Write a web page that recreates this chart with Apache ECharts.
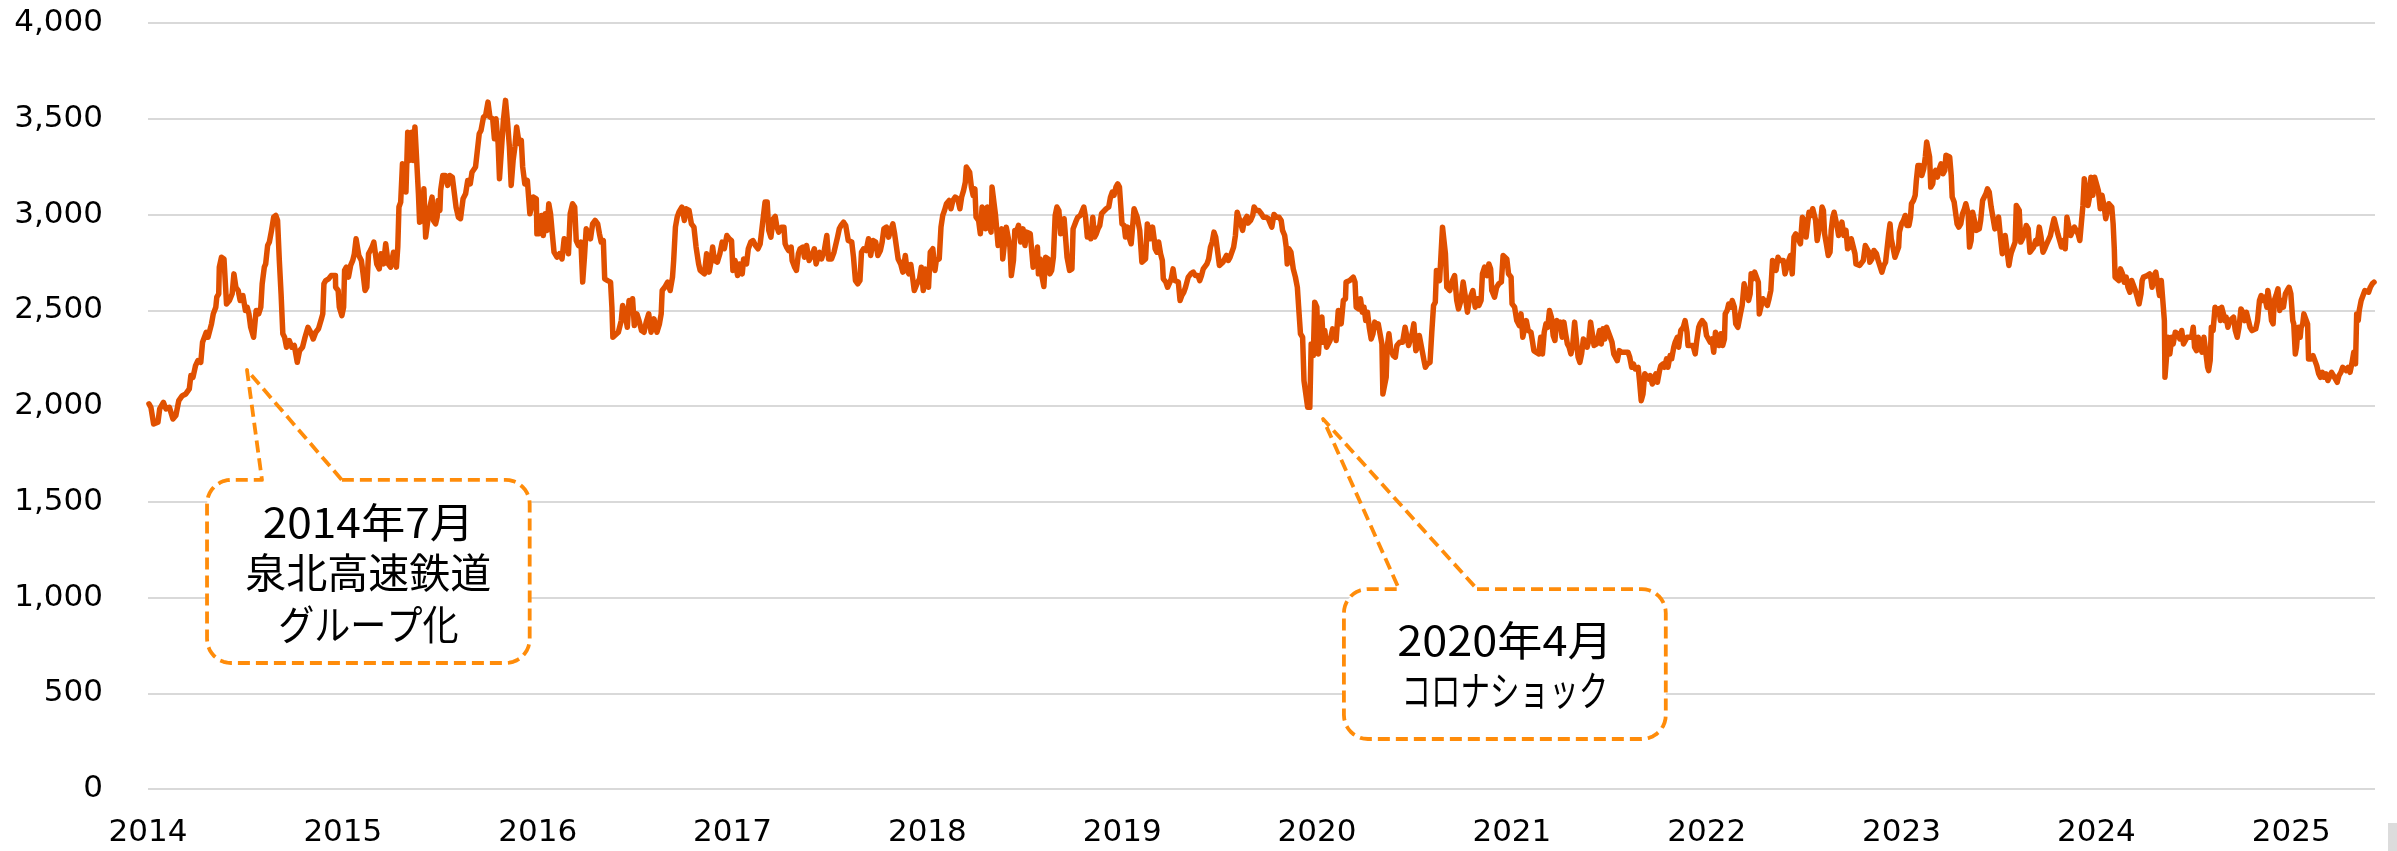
<!DOCTYPE html>
<html>
<head>
<meta charset="utf-8">
<script src="https://cdn.jsdelivr.net/npm/echarts@6/dist/echarts.min.js"></script>
<style>
html,body{margin:0;padding:0;background:#ffffff;}
#chart{width:2397px;height:851px;}
</style>
</head>
<body>
<div id="chart"></div>
<script>
// ---- tick labels ----
const yearTicks = [2014, 2015, 2016, 2017, 2018, 2019, 2020, 2021, 2022, 2023, 2024, 2025];
const priceTicks = [0, 500, 1000, 1500, 2000, 2500, 3000, 3500, 4000];

// ---- series values: [time in years, price] ----
const prices2014to2016 = [
[2014.005,2011],[2014.015,1993],[2014.029,1906],[2014.051,1915],[2014.060,1985],[2014.079,2019],[2014.092,1985],[2014.110,1993],[2014.128,1932],[2014.143,1950],[2014.158,2028],[2014.176,2054],[2014.194,2063],[2014.212,2089],[2014.220,2159],[2014.231,2150],[2014.244,2211],[2014.256,2237],[2014.271,2228],[2014.280,2333],[2014.299,2385],[2014.308,2359],[2014.326,2429],[2014.335,2481],[2014.348,2516],[2014.353,2568],[2014.363,2586],[2014.366,2725],[2014.377,2777],[2014.390,2768],[2014.403,2533],[2014.418,2551],[2014.432,2586],[2014.441,2690],[2014.451,2620],[2014.463,2603],[2014.473,2551],[2014.487,2577],[2014.500,2499],[2014.509,2516],[2014.518,2481],[2014.527,2411],[2014.542,2359],[2014.555,2499],[2014.568,2481],[2014.579,2516],[2014.586,2638],[2014.597,2725],[2014.604,2742],[2014.614,2838],[2014.623,2856],[2014.634,2917],[2014.645,2986],[2014.656,2995],[2014.665,2969],[2014.674,2760],[2014.683,2586],[2014.692,2377],[2014.701,2359],[2014.711,2307],[2014.725,2342],[2014.738,2307],[2014.751,2316],[2014.766,2228],[2014.778,2289],[2014.793,2307],[2014.806,2359],[2014.821,2411],[2014.835,2385],[2014.848,2350],[2014.861,2385],[2014.875,2403],[2014.890,2455],[2014.897,2481],[2014.903,2638],[2014.912,2655],[2014.927,2664],[2014.940,2681],[2014.949,2690],[2014.962,2681],[2014.963,2620],[2014.976,2603],[2014.982,2516],[2014.995,2472],
[2015.004,2516],[2015.009,2708],[2015.018,2725],[2015.029,2673],[2015.040,2734],[2015.051,2760],[2015.059,2795],[2015.068,2873],[2015.077,2864],[2015.082,2786],[2015.095,2760],[2015.104,2690],[2015.114,2603],[2015.123,2620],[2015.132,2795],[2015.141,2812],[2015.150,2830],[2015.159,2856],[2015.168,2864],[2015.174,2742],[2015.187,2716],[2015.196,2795],[2015.209,2742],[2015.220,2847],[2015.227,2856],[2015.233,2742],[2015.245,2725],[2015.260,2803],[2015.275,2725],[2015.282,2830],[2015.288,3039],[2015.297,3065],[2015.306,3265],[2015.315,3265],[2015.324,3117],[2015.333,3430],[2015.342,3282],[2015.352,3430],[2015.361,3282],[2015.370,3457],[2015.379,3457],[2015.388,3108],[2015.394,2960],[2015.407,2969],[2015.416,3134],[2015.425,2882],[2015.434,2882],[2015.443,3021],[2015.458,3091],[2015.465,2969],[2015.476,2951],[2015.484,2986],[2015.489,3073],[2015.498,3021],[2015.502,3126],[2015.513,3204],[2015.526,3204],[2015.538,3152],[2015.549,3204],[2015.562,3195],[2015.571,3204],[2015.581,3039],[2015.593,2986],[2015.604,2978],[2015.617,3082],[2015.630,3108],[2015.641,3178],[2015.654,3160],[2015.663,3221],[2015.681,3248],[2015.690,3256],[2015.700,3422],[2015.709,3439],[2015.722,3509],[2015.733,3518],[2015.745,3587],[2015.755,3509],[2015.769,3500],[2015.778,3396],[2015.786,3500],[2015.797,3370],[2015.804,3187],[2015.813,3187],[2015.824,3491],[2015.835,3596],[2015.846,3474],[2015.855,3352],[2015.864,3152],[2015.874,3282],[2015.883,3352],[2015.892,3457],[2015.905,3370],[2015.916,3387],[2015.923,3248],[2015.934,3160],[2015.947,3178],[2015.960,3004],[2015.969,3039],[2015.978,3091],[2015.993,3082],[2015.996,2899],
[2016.007,2899],[2016.020,2995],[2016.029,2890],[2016.038,3004],[2016.048,2917],[2016.057,3056],[2016.066,3004],[2016.075,2899],[2016.084,2803],[2016.099,2777],[2016.112,2795],[2016.125,2768],[2016.136,2873],[2016.148,2856],[2016.158,2795],[2016.167,3004],[2016.179,3056],[2016.190,3039],[2016.198,2864],[2016.209,2838],[2016.222,2856],[2016.231,2647],[2016.240,2777],[2016.249,2925],[2016.258,2934],[2016.271,2873],[2016.282,2951],[2016.295,2969],[2016.308,2951],[2016.317,2899],[2016.326,2856],[2016.337,2864],[2016.344,2664],[2016.359,2655],[2016.374,2647],[2016.381,2516],[2016.386,2359],[2016.396,2359],[2016.414,2385],[2016.429,2446],[2016.436,2525],[2016.447,2490],[2016.460,2411],[2016.469,2551],[2016.478,2516],[2016.487,2560],[2016.496,2420],[2016.509,2481],[2016.520,2446],[2016.533,2394],[2016.546,2385],[2016.557,2438],[2016.570,2481],[2016.582,2385],[2016.597,2455],[2016.612,2385],[2016.625,2429],[2016.634,2481],[2016.639,2603],[2016.652,2620],[2016.667,2647],[2016.680,2603],[2016.692,2673],[2016.698,2760],[2016.707,2934],[2016.716,2986],[2016.725,3012],[2016.740,3039],[2016.753,2969],[2016.762,3030],[2016.777,3021],[2016.789,2951],[2016.802,2934],[2016.813,2830],[2016.826,2742]
];

const prices2017to2019 = [
[2016.834,2708],[2016.843,2699],[2016.856,2690],[2016.867,2795],[2016.880,2699],[2016.889,2751],[2016.898,2830],[2016.907,2760],[2016.922,2751],[2016.935,2795],[2016.947,2856],[2016.958,2821],[2016.971,2890],[2016.984,2873],[2016.995,2864],[2017.002,2708],[2017.013,2760],[2017.026,2681],[2017.035,2742],[2017.050,2690],[2017.057,2768],[2017.072,2742],[2017.081,2821],[2017.094,2856],[2017.105,2864],[2017.118,2838],[2017.131,2821],[2017.142,2847],[2017.151,2925],[2017.160,2934],[2017.167,3065],[2017.178,3065],[2017.186,2917],[2017.197,2882],[2017.209,2978],[2017.219,2990],[2017.228,2934],[2017.237,2908],[2017.252,2934],[2017.264,2934],[2017.270,2847],[2017.277,2830],[2017.288,2812],[2017.301,2830],[2017.306,2760],[2017.319,2725],[2017.328,2708],[2017.338,2795],[2017.347,2821],[2017.361,2830],[2017.369,2777],[2017.380,2838],[2017.393,2760],[2017.402,2777],[2017.411,2795],[2017.420,2821],[2017.429,2742],[2017.438,2777],[2017.447,2803],[2017.457,2768],[2017.471,2812],[2017.484,2890],[2017.493,2768],[2017.508,2768],[2017.521,2803],[2017.530,2803],[2017.539,2882],[2017.548,2925],[2017.557,2943],[2017.570,2960],[2017.581,2943],[2017.594,2864],[2017.603,2856],[2017.612,2856],[2017.621,2777],[2017.631,2655],[2017.643,2638],[2017.654,2655],[2017.662,2803],[2017.673,2821],[2017.686,2812],[2017.698,2873],[2017.709,2786],[2017.717,2786],[2017.722,2864],[2017.735,2856],[2017.746,2786],[2017.759,2812],[2017.768,2856],[2017.777,2925],[2017.790,2934],[2017.801,2882],[2017.814,2925],[2017.823,2951],[2017.832,2899],[2017.841,2899],[2017.850,2768],[2017.863,2742],[2017.874,2699],[2017.887,2786],[2017.896,2708],[2017.905,2690],[2017.915,2739],[2017.924,2673],[2017.933,2603],[2017.947,2638],[2017.960,2664],[2017.969,2725],[2017.979,2603],[2017.988,2716],[2017.997,2690],
[2018.006,2620],[2018.015,2803],[2018.028,2821],[2018.039,2708],[2018.046,2760],[2018.061,2768],[2018.070,2934],[2018.079,2995],[2018.088,3021],[2018.098,3056],[2018.112,3073],[2018.121,3030],[2018.131,3073],[2018.143,3091],[2018.156,3082],[2018.167,3030],[2018.176,3091],[2018.186,3126],[2018.195,3169],[2018.200,3248],[2018.208,3251],[2018.217,3221],[2018.226,3143],[2018.235,3100],[2018.244,3134],[2018.250,2986],[2018.263,2969],[2018.272,2899],[2018.281,3039],[2018.290,3021],[2018.299,2925],[2018.308,3039],[2018.317,2951],[2018.327,2908],[2018.332,3143],[2018.341,3134],[2018.350,2995],[2018.358,2899],[2018.363,2838],[2018.372,2830],[2018.382,2925],[2018.387,2768],[2018.394,2760],[2018.405,2934],[2018.415,2925],[2018.424,2830],[2018.431,2681],[2018.442,2760],[2018.449,2917],[2018.460,2917],[2018.468,2943],[2018.479,2856],[2018.491,2925],[2018.501,2838],[2018.510,2908],[2018.519,2899],[2018.528,2899],[2018.537,2795],[2018.543,2725],[2018.552,2716],[2018.559,2760],[2018.565,2830],[2018.570,2690],[2018.579,2768],[2018.589,2673],[2018.598,2624],[2018.607,2777],[2018.620,2768],[2018.629,2690],[2018.638,2708],[2018.647,2777],[2018.656,2995],[2018.665,3039],[2018.675,3021],[2018.684,2899],[2018.693,2899],[2018.702,2978],[2018.711,2978],[2018.717,2777],[2018.730,2708],[2018.742,2716],[2018.748,2925],[2018.761,2960],[2018.772,2986],[2018.785,2995],[2018.794,3004],[2018.803,3039],[2018.812,2986],[2018.821,2882],[2018.830,2917],[2018.839,2873],[2018.849,2986],[2018.858,2882],[2018.867,2899],[2018.876,2925],[2018.885,2943],[2018.894,3004],[2018.904,3004],[2018.918,3030],[2018.931,3039],[2018.940,3091],[2018.949,3117],[2018.958,3100],[2018.968,3143],[2018.977,3160],[2018.986,3143],[2018.995,3134],[2018.999,2951],
[2019.010,2943],[2019.017,2882],[2019.028,2934],[2019.035,2882],[2019.046,2847],[2019.054,2943],[2019.061,3030],[2019.068,3021],[2019.077,2986],[2019.090,2917],[2019.101,2751],[2019.109,2742],[2019.120,2768],[2019.129,2951],[2019.138,2960],[2019.145,2873],[2019.156,2934],[2019.164,2873],[2019.169,2821],[2019.178,2803],[2019.187,2856],[2019.197,2795],[2019.206,2760],[2019.211,2664],[2019.224,2647],[2019.233,2620],[2019.242,2612],[2019.252,2664],[2019.261,2716],[2019.270,2655],[2019.279,2655],[2019.288,2647],[2019.297,2551],[2019.306,2577],[2019.316,2594],[2019.325,2620],[2019.334,2629],[2019.339,2673],[2019.352,2690],[2019.365,2699],[2019.376,2681],[2019.389,2681],[2019.398,2655],[2019.407,2681],[2019.416,2716],[2019.426,2708],[2019.435,2742],[2019.444,2768],[2019.453,2830],[2019.462,2856],[2019.471,2908],[2019.480,2882],[2019.490,2890],[2019.499,2734],[2019.508,2725],[2019.517,2751],[2019.526,2760],[2019.535,2786],[2019.545,2760],[2019.554,2777],[2019.563,2777],[2019.572,2830],[2019.581,2890],[2019.590,3012],[2019.600,3012],[2019.609,2951],[2019.618,2917],[2019.627,2969],[2019.640,2990]
];

const prices2020to2022 = [
[2019.646,2955],[2019.659,2969],[2019.670,2995],[2019.677,3039],[2019.688,3021],[2019.701,3021],[2019.714,3004],[2019.725,2986],[2019.737,2986],[2019.750,2978],[2019.761,2951],[2019.768,2934],[2019.779,3000],[2019.792,2986],[2019.805,2986],[2019.816,2969],[2019.823,2917],[2019.834,2890],[2019.842,2830],[2019.847,2742],[2019.856,2821],[2019.866,2803],[2019.875,2795],[2019.878,2716],[2019.889,2673],[2019.899,2620],[2019.908,2481],[2019.915,2377],[2019.926,2359],[2019.933,2133],[2019.942,2124],[2019.952,1993],[2019.963,1993],[2019.970,2324],[2019.981,2263],[2019.988,2542],[2019.999,2516],
[2020.007,2272],[2020.018,2446],[2020.025,2464],[2020.032,2333],[2020.040,2394],[2020.049,2307],[2020.058,2316],[2020.067,2342],[2020.080,2403],[2020.091,2377],[2020.098,2342],[2020.109,2499],[2020.116,2507],[2020.124,2429],[2020.135,2551],[2020.146,2560],[2020.149,2647],[2020.159,2647],[2020.168,2655],[2020.177,2664],[2020.186,2673],[2020.195,2647],[2020.201,2516],[2020.214,2507],[2020.223,2560],[2020.232,2490],[2020.241,2516],[2020.250,2446],[2020.259,2490],[2020.268,2411],[2020.278,2350],[2020.287,2377],[2020.296,2438],[2020.305,2411],[2020.314,2429],[2020.323,2429],[2020.333,2324],[2020.338,2063],[2020.347,2063],[2020.355,2150],[2020.360,2307],[2020.369,2377],[2020.378,2298],[2020.391,2263],[2020.402,2255],[2020.410,2316],[2020.424,2333],[2020.439,2333],[2020.452,2411],[2020.461,2420],[2020.470,2316],[2020.479,2324],[2020.488,2377],[2020.497,2429],[2020.507,2289],[2020.516,2307],[2020.525,2368],[2020.538,2298],[2020.549,2237],[2020.556,2202],[2020.567,2220],[2020.580,2228],[2020.589,2385],[2020.598,2525],[2020.607,2542],[2020.613,2708],[2020.622,2716],[2020.629,2655],[2020.637,2803],[2020.644,2934],[2020.653,2934],[2020.659,2795],[2020.666,2620],[2020.681,2603],[2020.695,2655],[2020.706,2681],[2020.717,2551],[2020.726,2507],[2020.739,2551],[2020.750,2647],[2020.759,2586],[2020.772,2490],[2020.781,2551],[2020.790,2551],[2020.800,2603],[2020.812,2516],[2020.823,2560],[2020.831,2525],[2020.842,2551],[2020.849,2690],[2020.860,2725],[2020.873,2681],[2020.882,2742],[2020.891,2716],[2020.897,2603],[2020.904,2594],[2020.911,2568],[2020.922,2620],[2020.933,2638],[2020.946,2647],[2020.955,2786],[2020.964,2795],[2020.974,2768],[2020.983,2690],[2020.996,2673],
[2021.001,2533],[2021.014,2516],[2021.025,2446],[2021.038,2420],[2021.047,2481],[2021.056,2359],[2021.065,2368],[2021.074,2446],[2021.084,2394],[2021.098,2385],[2021.105,2342],[2021.113,2289],[2021.124,2281],[2021.138,2272],[2021.148,2359],[2021.157,2272],[2021.166,2385],[2021.175,2429],[2021.184,2411],[2021.193,2499],[2021.203,2464],[2021.212,2368],[2021.221,2342],[2021.230,2446],[2021.239,2411],[2021.248,2438],[2021.258,2359],[2021.267,2438],[2021.276,2377],[2021.285,2324],[2021.294,2307],[2021.303,2272],[2021.312,2316],[2021.322,2438],[2021.331,2429],[2021.340,2255],[2021.349,2228],[2021.358,2272],[2021.367,2350],[2021.377,2333],[2021.386,2307],[2021.395,2342],[2021.404,2438],[2021.413,2446],[2021.422,2316],[2021.435,2324],[2021.450,2394],[2021.459,2324],[2021.468,2403],[2021.477,2350],[2021.486,2411],[2021.496,2420],[2021.505,2359],[2021.514,2333],[2021.523,2272],[2021.532,2272],[2021.541,2237],[2021.551,2289],[2021.563,2281],[2021.578,2281],[2021.587,2289],[2021.596,2281],[2021.605,2255],[2021.615,2202],[2021.624,2220],[2021.633,2194],[2021.648,2202],[2021.655,2133],[2021.664,2028],[2021.673,2063],[2021.682,2168],[2021.692,2159],[2021.703,2141],[2021.710,2159],[2021.721,2115],[2021.728,2133],[2021.739,2168],[2021.747,2124],[2021.758,2185],[2021.765,2211],[2021.776,2220],[2021.783,2202],[2021.794,2246],[2021.801,2202],[2021.812,2263],[2021.820,2246],[2021.831,2307],[2021.838,2333],[2021.849,2359],[2021.856,2307],[2021.867,2394],[2021.880,2411],[2021.889,2446],[2021.899,2385],[2021.904,2316],[2021.917,2316],[2021.930,2316],[2021.941,2272],[2021.948,2333],[2021.959,2411],[2021.966,2429],[2021.977,2446],[2021.990,2429],[2021.999,2368],
[2022.008,2377],[2022.018,2333],[2022.027,2350],[2022.036,2281],[2022.045,2385],[2022.054,2377],[2022.063,2316],[2022.073,2377],[2022.082,2316],[2022.091,2350],[2022.095,2481],[2022.105,2499],[2022.113,2533],[2022.124,2516],[2022.131,2551],[2022.142,2516],[2022.149,2429],[2022.160,2411],[2022.168,2403],[2022.173,2481],[2022.182,2525],[2022.192,2638],[2022.197,2638],[2022.204,2586],[2022.215,2551],[2022.223,2586],[2022.228,2690],[2022.237,2664],[2022.246,2699],[2022.256,2708],[2022.265,2647],[2022.270,2481],[2022.278,2516],[2022.289,2560],[2022.301,2542],[2022.311,2525],[2022.320,2560],[2022.329,2603],[2022.338,2760],[2022.347,2768],[2022.356,2708],[2022.366,2777],[2022.375,2760],[2022.384,2751],[2022.393,2760],[2022.402,2690],[2022.411,2690],[2022.421,2760],[2022.430,2786],[2022.439,2690],[2022.448,2882],[2022.457,2899],[2022.466,2908]
];

const prices2023to2025 = [
[2022.481,2847],[2022.491,2986],[2022.500,2969],[2022.510,2882],[2022.519,2890],[2022.525,3012],[2022.535,2995],[2022.544,3030],[2022.552,3039],[2022.559,2969],[2022.567,2864],[2022.576,2917],[2022.586,2969],[2022.592,3039],[2022.599,3021],[2022.605,2899],[2022.614,2847],[2022.624,2786],[2022.633,2803],[2022.639,2917],[2022.647,2986],[2022.654,3012],[2022.662,3021],[2022.670,2934],[2022.677,2890],[2022.685,2917],[2022.694,2960],[2022.704,2890],[2022.715,2917],[2022.723,2821],[2022.734,2830],[2022.742,2873],[2022.749,2882],[2022.761,2795],[2022.766,2742],[2022.776,2742],[2022.785,2734],[2022.795,2725],[2022.804,2760],[2022.814,2838],[2022.823,2847],[2022.833,2803],[2022.837,2751],[2022.848,2768],[2022.858,2812],[2022.871,2795],[2022.880,2760],[2022.890,2751],[2022.899,2699],[2022.909,2734],[2022.918,2751],[2022.928,2760],[2022.934,2899],[2022.941,2951],[2022.947,2873],[2022.956,2830],[2022.966,2777],[2022.975,2768],[2022.985,2830],[2022.989,2908],
[2023.000,2951],[2023.010,2969],[2023.019,2995],[2023.027,2943],[2023.038,2943],[2023.046,2986],[2023.051,3056],[2023.061,3073],[2023.070,3100],[2023.076,3178],[2023.084,3256],[2023.095,3256],[2023.104,3204],[2023.114,3239],[2023.122,3300],[2023.129,3378],[2023.137,3370],[2023.144,3300],[2023.150,3143],[2023.160,3160],[2023.165,3213],[2023.175,3230],[2023.184,3195],[2023.194,3239],[2023.203,3265],[2023.213,3213],[2023.222,3230],[2023.228,3309],[2023.236,3300],[2023.247,3300],[2023.255,3204],[2023.260,3091],[2023.270,3065],[2023.279,3056],[2023.285,2951],[2023.294,2934],[2023.304,2951],[2023.313,3004],[2023.323,3030],[2023.330,3056],[2023.336,3065],[2023.342,3004],[2023.346,2899],[2023.349,2830],[2023.357,2864],[2023.365,3012],[2023.374,2969],[2023.384,2917],[2023.399,2925],[2023.406,2969],[2023.416,3073],[2023.425,3082],[2023.433,3108],[2023.441,3134],[2023.450,3117],[2023.460,3039],[2023.469,2986],[2023.479,2925],[2023.488,2917],[2023.498,2986],[2023.507,2890],[2023.517,2795],[2023.526,2803],[2023.532,2890],[2023.541,2882],[2023.551,2734],[2023.558,2777],[2023.564,2803],[2023.574,2812],[2023.583,2856],[2023.589,3047],[2023.596,3056],[2023.604,3021],[2023.612,2856],[2023.621,2873],[2023.631,2899],[2023.640,2943],[2023.650,2925],[2023.659,2803],[2023.669,2795],[2023.678,2830],[2023.688,2864],[2023.697,2847],[2023.707,2934],[2023.716,2882],[2023.726,2803],[2023.735,2821],[2023.745,2847],[2023.754,2856],[2023.764,2890],[2023.773,2934],[2023.783,2978],[2023.792,2969],[2023.802,2899],[2023.811,2890],[2023.821,2830],[2023.830,2864],[2023.840,2821],[2023.849,2986],[2023.859,2978],[2023.868,2890],[2023.878,2899],[2023.887,2934],[2023.897,2934],[2023.906,2899],[2023.915,2864],[2023.925,2856],[2023.931,3047],[2023.938,3187],[2023.948,3187],[2023.957,3047],[2023.965,3091],[2023.972,3195],[2023.982,3100],[2023.991,3195],
[2024.001,3195],[2024.010,3126],[2024.020,3030],[2024.029,3100],[2024.039,3047],[2024.048,2978],[2024.058,2986],[2024.064,3056],[2024.071,3065],[2024.079,3039],[2024.086,2951],[2024.092,2821],[2024.096,2673],[2024.105,2664],[2024.115,2655],[2024.124,2716],[2024.134,2690],[2024.143,2647],[2024.153,2673],[2024.162,2620],[2024.172,2594],[2024.181,2655],[2024.191,2664],[2024.200,2603],[2024.210,2568],[2024.219,2533],[2024.229,2586],[2024.235,2655],[2024.242,2673],[2024.252,2673],[2024.261,2681],[2024.273,2690],[2024.280,2664],[2024.286,2620],[2024.295,2681],[2024.305,2699],[2024.314,2690],[2024.324,2577],[2024.333,2655],[2024.343,2664],[2024.349,2446],[2024.352,2150],[2024.362,2159],[2024.368,2359],[2024.377,2272],[2024.387,2359],[2024.394,2324],[2024.405,2385],[2024.419,2377],[2024.428,2350],[2024.438,2394],[2024.447,2324],[2024.457,2316],[2024.466,2359],[2024.476,2368],[2024.489,2359],[2024.497,2411],[2024.504,2307],[2024.514,2289],[2024.523,2359],[2024.533,2307],[2024.542,2281],[2024.552,2359],[2024.561,2350],[2024.571,2202],[2024.576,2185],[2024.584,2237],[2024.590,2411],[2024.599,2394],[2024.609,2516],[2024.618,2481],[2024.628,2507],[2024.637,2446],[2024.643,2516],[2024.652,2481],[2024.660,2446],[2024.666,2464],[2024.675,2411],[2024.685,2446],[2024.694,2455],[2024.704,2464],[2024.713,2394],[2024.723,2359],[2024.732,2411],[2024.742,2507],[2024.751,2490],[2024.761,2446],[2024.770,2490],[2024.780,2481],[2024.789,2411],[2024.799,2394],[2024.808,2394],[2024.818,2403],[2024.827,2446],[2024.837,2551],[2024.846,2577],[2024.856,2551],[2024.865,2568],[2024.875,2516],[2024.880,2603],[2024.888,2551],[2024.899,2446],[2024.907,2429],[2024.913,2551],[2024.922,2577],[2024.932,2612],[2024.941,2499],[2024.951,2551],[2024.960,2516],[2024.970,2586],[2024.979,2603],[2024.989,2620],[2024.998,2586],
[2025.008,2446],[2025.013,2429],[2025.021,2272],[2025.027,2307],[2025.036,2411],[2025.046,2359],[2025.051,2411],[2025.059,2429],[2025.065,2481],[2025.074,2481],[2025.084,2429],[2025.089,2246],[2025.103,2246],[2025.112,2263],[2025.122,2255],[2025.131,2211],[2025.141,2168],[2025.150,2150],[2025.160,2176],[2025.169,2150],[2025.179,2168],[2025.188,2133],[2025.198,2124],[2025.207,2176],[2025.217,2159],[2025.226,2150],[2025.236,2124],[2025.245,2159],[2025.255,2176],[2025.264,2202],[2025.274,2211],[2025.283,2185],[2025.292,2202],[2025.302,2176],[2025.311,2220],[2025.321,2281],[2025.330,2220],[2025.336,2481],[2025.344,2446],[2025.349,2499],[2025.359,2551],[2025.368,2551],[2025.378,2603],[2025.387,2603],[2025.397,2594],[2025.406,2620],[2025.416,2638],[2025.425,2647]
];

// ---- annotations (anchored in data space) ----
const callouts = [
  { lines: ['2014年7月', '泉北高速鉄道', 'グループ化'],
    box: [2014.303, 2015.959, 1614, 658],   // t-left, t-right, v-top, v-bottom
    tip: [2014.508, 2188],
    base: [2014.585, 2014.995] },
  { lines: ['2020年4月', 'コロナショック'],
    box: [2020.138, 2021.790, 1044, 261],
    tip: [2020.031, 1932],
    base: [2020.421, 2020.821] }
];

// ---- styles / layout ----
const LINE_COLOR = '#E05000';
const CALLOUT_COLOR = '#FF8C0A';
const TEXT_FONT = '"Noto Sans CJK JP", sans-serif';
const lineLayout = [
  { offsets: [43, 93, 145], scaleX: [1.08, 1.0, 0.88] },
  { offsets: [51, 101],     scaleX: [1.10, 0.72] }
];

const priceData = prices2014to2016.concat(prices2017to2019, prices2020to2022, prices2023to2025);

const chart = echarts.init(document.getElementById('chart'), null, { renderer: 'canvas' });

chart.setOption({
  animation: false,
  backgroundColor: '#ffffff',
  grid: { left: 148, right: 22, top: 23, bottom: 62, containLabel: false },
  xAxis: {
    type: 'value',
    min: yearTicks[0],
    max: 2025.43,
    interval: 1,
    axisLine: { show: false },
    axisTick: { show: false },
    splitLine: { show: false },
    axisLabel: {
      showMaxLabel: false,
      margin: 28,
      fontFamily: 'DejaVu Sans',
      fontSize: 31,
      color: '#000000',
      formatter: function (v) { return yearTicks.indexOf(Math.round(v)) >= 0 ? String(Math.round(v)) : ''; }
    }
  },
  yAxis: {
    type: 'value',
    min: priceTicks[0],
    max: priceTicks[priceTicks.length - 1],
    interval: 500,
    axisLine: { show: false },
    axisTick: { show: false },
    splitLine: { show: true, lineStyle: { color: '#D9D9D9', width: 2 } },
    axisLabel: {
      margin: 45,
      fontFamily: 'DejaVu Sans',
      fontSize: 31,
      color: '#000000',
      formatter: function (v) { return Number(v).toLocaleString('en-US'); }
    }
  },
  series: [{
    type: 'line',
    data: priceData,
    showSymbol: false,
    symbol: 'none',
    sampling: null,
    lineStyle: { color: LINE_COLOR, width: 5.5, join: 'round', cap: 'round' },
    z: 3
  }]
});

function arcPts(cx, cy, r, a0, a1) {
  const pts = [];
  const n = 10;
  for (let i = 0; i <= n; i++) {
    const a = a0 + (a1 - a0) * i / n;
    pts.push([cx + r * Math.cos(a), cy + r * Math.sin(a)]);
  }
  return pts;
}

function buildCallout(c, lay) {
  const p = (t, v) => chart.convertToPixel({ gridIndex: 0 }, [t, v]);
  const tl = p(c.box[0], c.box[2]);
  const brc = p(c.box[1], c.box[3]);
  const L = tl[0], T = tl[1], R = brc[0], B = brc[1];
  const tip = p(c.tip[0], c.tip[1]);
  const bl = p(c.base[0], 0)[0], br = p(c.base[1], 0)[0];
  const r = 24;
  const PI = Math.PI;
  let pts = [[br, T], [R - r, T]];
  pts = pts.concat(arcPts(R - r, T + r, r, -PI / 2, 0));
  pts.push([R, B - r]);
  pts = pts.concat(arcPts(R - r, B - r, r, 0, PI / 2));
  pts.push([L + r, B]);
  pts = pts.concat(arcPts(L + r, B - r, r, PI / 2, PI));
  pts.push([L, T + r]);
  pts = pts.concat(arcPts(L + r, T + r, r, PI, 1.5 * PI));
  pts.push([bl, T], [tip[0], tip[1]]);

  const els = [];
  els.push({
    type: 'rect', z: 10,
    shape: { x: L, y: T, width: R - L, height: B - T, r: r },
    style: { fill: '#ffffff', stroke: null }
  });
  els.push({
    type: 'polygon', z: 11,
    shape: { points: pts },
    style: { fill: null, stroke: CALLOUT_COLOR, lineWidth: 3.8, lineDash: [12, 6], lineJoin: 'round' }
  });
  const cx = (L + R) / 2;
  c.lines.forEach(function (txt, i) {
    els.push({
      type: 'text', z: 12,
      x: cx, y: T + lay.offsets[i],
      scaleX: lay.scaleX[i], scaleY: 1,
      style: {
        text: txt, x: 0, y: 0,
        font: '41px ' + TEXT_FONT,
        fill: '#000000',
        align: 'center', verticalAlign: 'middle',
        textAlign: 'center', textVerticalAlign: 'middle'
      }
    });
  });
  return els;
}

let elements = [];
callouts.forEach(function (c, i) { elements = elements.concat(buildCallout(c, lineLayout[i])); });
// small grey scrollbar fragment at the lower right edge of the reference image
elements.push({ type: 'rect', z: 20, shape: { x: 2388, y: 823, width: 9, height: 28 }, style: { fill: '#DCDCDC' } });

chart.setOption({ graphic: { elements: elements } });
</script>
</body>
</html>
